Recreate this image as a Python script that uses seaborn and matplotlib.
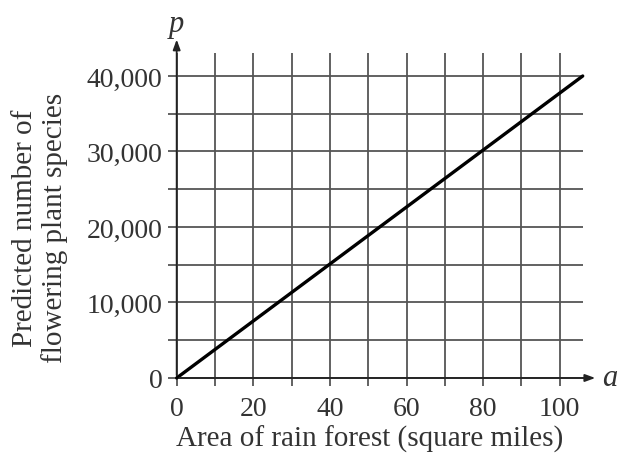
"""
Yağmur ormanı alanına göre tahmini çiçekli bitki türü sayısı (doğrusal model).
"""

import matplotlib
matplotlib.use("Agg")
import matplotlib.pyplot as plt
import seaborn as sns
import pandas as pd

# Veriler
area = [0, 106]                 # square miles
species = [0, 40000]            # predicted flowering plant species
x_ticks = [0, 20, 40, 60, 80, 100]
x_grid = [0, 10, 20, 30, 40, 50, 60, 70, 80, 90, 100]
y_ticks = [0, 10000, 20000, 30000, 40000]
y_grid = [0, 5000, 10000, 15000, 20000, 25000, 30000, 35000, 40000]
y_tick_labels = ["0", "10,000", "20,000", "30,000", "40,000"]

sns.set_style("white")
plt.rcParams["font.family"] = ["Liberation Serif", "DejaVu Serif"]
text_col = "#333333"
grid_col = "#555555"

fig = plt.figure(figsize=(6.2, 4.6), dpi=100)
ax = fig.add_axes([0.2689, 0.14, 0.7142, 0.7993])
ax.set_xlim(-2.6, 113)
ax.set_ylim(-2200, 46500)
for s in ax.spines.values():
    s.set_visible(False)

# Izgara
ax.vlines(x_grid[1:], -1000, 43000, color=grid_col, lw=1.3)
ax.hlines(y_grid[1:], -2.2, 106, color=grid_col, lw=1.3)
ax.hlines(0, -2.2, 108, color=grid_col, lw=1.3)
ax.vlines(0, -1000, 43000, color=grid_col, lw=1.3)

# Eksen okları
ax.annotate("", xy=(0, 45200), xytext=(0, 0),
            arrowprops=dict(arrowstyle="-|>,head_length=0.6,head_width=0.22", color="#222222", lw=1.3))
ax.annotate("", xy=(110, 0), xytext=(0, 0),
            arrowprops=dict(arrowstyle="-|>,head_length=0.6,head_width=0.22", color="#222222", lw=1.3))

# Doğru
df = pd.DataFrame({"a": area, "p": species})
sns.lineplot(data=df, x="a", y="p", color="black", lw=2.4, ax=ax)

ax.set_xticks(x_ticks)
ax.set_xticklabels([str(v) for v in x_ticks])
ax.set_yticks(y_ticks)
ax.set_yticklabels(y_tick_labels)
ax.tick_params(length=0, labelsize=20, colors=text_col)
ax.tick_params(axis="y", pad=3)
ax.tick_params(axis="x", pad=1)
ax.set_xlabel("")
ax.set_ylabel("")

fig.text(370 / 620, 0.0457, "Area of rain forest (square miles)", fontsize=21,
         color=text_col, ha="center", va="center")
fig.text(40 / 620, 0.504, "Predicted number of\nflowering plant species", fontsize=21,
         color=text_col, ha="center", va="center", rotation=90, linespacing=1.1)

ax.text(111, 0, "a", fontsize=22, style="italic", color=text_col, va="center", ha="left")
ax.text(0, 47000, "p", fontsize=22, style="italic", color=text_col, va="center", ha="center",
        clip_on=False)

fig.savefig("out.png", dpi=100)
plt.close(fig)
